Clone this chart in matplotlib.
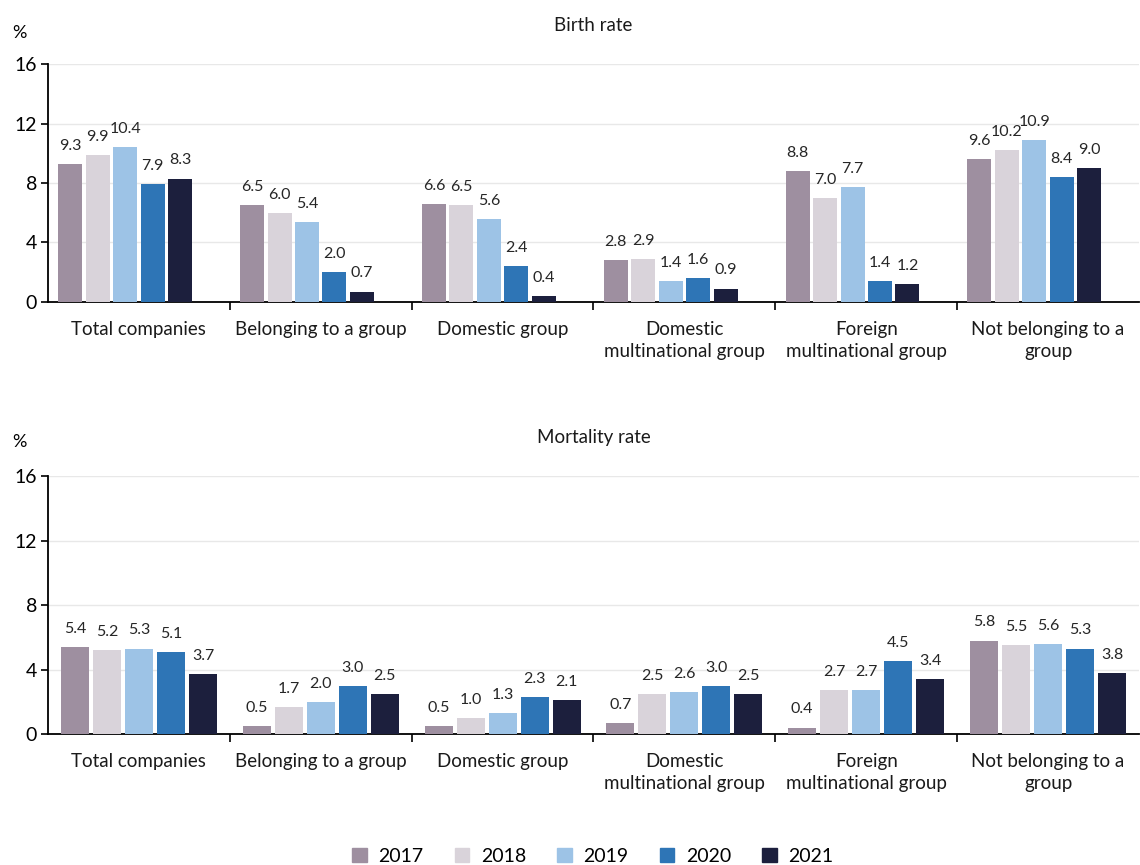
import numpy as np
import matplotlib.pyplot as plt
from matplotlib.patches import Patch

plt.rcParams['font.family'] = ['Lato', 'DejaVu Sans']

categories = ['Total companies', 'Belonging to a group', 'Domestic group',
              'Domestic\nmultinational group', 'Foreign\nmultinational group',
              'Not belonging to a\ngroup']
years = ['2017', '2018', '2019', '2020', '2021']
colors = ['#9E8FA0', '#D9D3DA', '#9DC3E6', '#2E75B6', '#1C1F3D']

birth_2017 = [9.3, 6.5, 6.6, 2.8, 8.8, 9.6]
birth_2018 = [9.9, 6.0, 6.5, 2.9, 7.0, 10.2]
birth_2019 = [10.4, 5.4, 5.6, 1.4, 7.7, 10.9]
birth_2020 = [7.9, 2.0, 2.4, 1.6, 1.4, 8.4]
birth_2021 = [8.3, 0.7, 0.4, 0.9, 1.2, 9.0]

mort_2017 = [5.4, 0.5, 0.5, 0.7, 0.4, 5.8]
mort_2018 = [5.2, 1.7, 1.0, 2.5, 2.7, 5.5]
mort_2019 = [5.3, 2.0, 1.3, 2.6, 2.7, 5.6]
mort_2020 = [5.1, 3.0, 2.3, 3.0, 4.5, 5.3]
mort_2021 = [3.7, 2.5, 2.1, 2.5, 3.4, 3.8]

birth = [birth_2017, birth_2018, birth_2019, birth_2020, birth_2021]
mort = [mort_2017, mort_2018, mort_2019, mort_2020, mort_2021]

fig = plt.figure(figsize=(11.4, 8.65), dpi=100)
ax1 = fig.add_axes([0.0421, 0.6509, 0.957, 0.2751])
ax2 = fig.add_axes([0.0421, 0.1514, 0.957, 0.2983])

x = np.arange(len(categories))


def draw(ax, series, title, step, width, shift):
    for i, vals in enumerate(series):
        pos = x + (i - shift) * step
        ax.bar(pos, vals, width=width, color=colors[i], zorder=3)
        for p, v in zip(pos, vals):
            ax.annotate(f'{v:.1f}', (p, v), xytext=(0, 8), textcoords='offset points',
                        ha='center', va='bottom', fontsize=11.5, color='#262626')
    ax.set_xlim(-0.5, len(categories) - 0.5)
    ax.set_ylim(0, 16)
    ax.set_yticks([0, 4, 8, 12, 16])
    ax.yaxis.grid(True, color='#E8E8E8', linewidth=1, zorder=0)
    ax.set_xticks(x)
    ax.set_xticklabels(categories, fontsize=13.5, color='#1a1a1a', linespacing=1.3)
    ax.set_xticks(np.arange(0.5, len(categories) - 0.5, 1), minor=True)
    ax.tick_params(axis='x', which='major', length=0, pad=14)
    ax.tick_params(axis='x', which='minor', length=6, width=1.2, direction='out')
    ax.tick_params(axis='y', length=5, width=1.2, labelsize=14, pad=3)
    for s in ['top', 'right']:
        ax.spines[s].set_visible(False)
    for s in ['left', 'bottom']:
        ax.spines[s].set_linewidth(1.3)
    ax.set_title(title, fontsize=13.5, pad=24, color='#1a1a1a')
    ax.text(-0.033, 1.13, '%', transform=ax.transAxes, fontsize=13, ha='left', va='center')


draw(ax1, birth, 'Birth rate', 0.151, 0.132, 2.5)
draw(ax2, mort, 'Mortality rate', 0.176, 0.154, 2.0)

handles = [Patch(color=c) for c in colors]
fig.legend(handles, years, loc='lower center', bbox_to_anchor=(0.52, -0.02), ncol=5,
           frameon=False, fontsize=14, handlelength=0.75, handleheight=0.75,
           columnspacing=1.6, handletextpad=0.6)

fig.savefig('out.png', dpi=100)
